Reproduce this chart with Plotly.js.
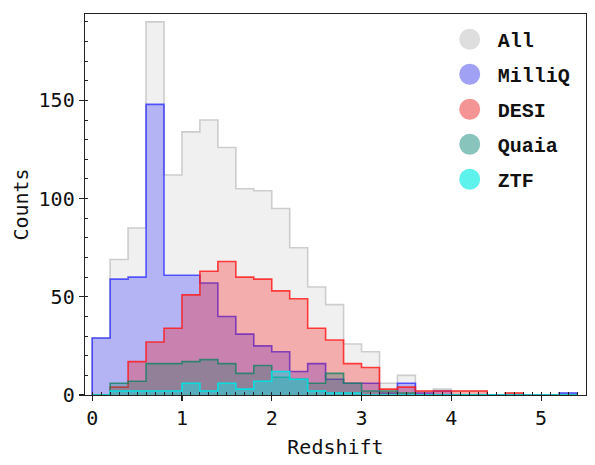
<!DOCTYPE html>
<html>
<head>
<meta charset="utf-8">
<script src="https://cdn.plot.ly/plotly-3.0.1.min.js"></script>
<style>html,body{margin:0;padding:0;background:#fff;}#chart{width:595px;height:465px;}</style>
</head>
<body>
<div id="chart"></div>
<script>
// Histogram bin edges: 0.0 to 5.4 in steps of 0.2 (27 bins)
var binStart = 0.0;
var binWidth = 0.2;
var seriesNames = ["All", "MilliQ", "DESI", "Quaia", "ZTF"];
var countsAll    = [29, 69, 85, 190, 112, 134, 140, 126, 105, 104, 95, 75, 55, 46, 26, 22, 6, 10, 2, 3, 2, 2, 0, 1, 0, 0, 1];
var countsMilliQ = [29, 59, 60, 148, 61, 61, 57, 40, 31, 25, 22, 12, 16, 8, 6, 6, 1, 6, 1, 2, 0, 0, 0, 0, 0, 0, 1];
var countsDESI   = [0, 4, 17, 27, 34, 51, 63, 68, 60, 59, 53, 49, 34, 28, 16, 14, 3, 4, 2, 2, 2, 2, 0, 1, 0, 0, 0];
var countsQuaia  = [0, 6, 7, 16, 16, 17, 18, 16, 11, 15, 9, 8, 6, 11, 6, 2, 2, 1, 0, 0, 0, 0, 0, 0, 0, 0, 0];
var countsZTF    = [0, 2, 2, 2, 2, 6, 2, 6, 3, 7, 12, 8, 2, 1, 1, 0, 0, 0, 0, 0, 0, 0, 0, 0, 0, 0, 0];
var xTickVals = [0, 1, 2, 3, 4, 5];
var yTickVals = [0, 50, 100, 150];

var allCounts = [countsAll, countsMilliQ, countsDESI, countsQuaia, countsZTF];
var fills = ["rgba(128,128,128,0.12)", "rgba(0,0,255,0.25)", "rgba(255,0,0,0.28)", "rgba(30,125,105,0.32)", "rgba(0,235,235,0.40)"];
var lines = ["rgb(205,205,205)", "rgba(40,40,255,0.75)", "rgba(255,20,20,0.8)", "rgba(20,130,100,0.8)", "rgba(0,225,225,0.95)"];
var legendColors = ["#dedede", "#a0a0f4", "#f49494", "#88c4bc", "#5ef2ec"];

function stepXY(counts) {
  var xs = [binStart], ys = [0];
  for (var i = 0; i < counts.length; i++) {
    xs.push(binStart + i * binWidth);
    ys.push(counts[i]);
  }
  xs.push(binStart + counts.length * binWidth);
  ys.push(0);
  return {x: xs, y: ys};
}

var traces = [];
for (var k = 0; k < seriesNames.length; k++) {
  var s = stepXY(allCounts[k]);
  traces.push({
    type: "scatter", mode: "lines", x: s.x, y: s.y,
    line: {shape: "hv", color: lines[k], width: 1.6},
    fill: "tozeroy", fillcolor: fills[k],
    name: seriesNames[k], showlegend: false, hoverinfo: "skip"
  });
}
for (var k = 0; k < seriesNames.length; k++) {
  traces.push({
    type: "scatter", mode: "markers", x: [null], y: [null],
    marker: {symbol: "circle", size: 16, color: legendColors[k], line: {color: legendColors[k], width: 5}},
    name: seriesNames[k], legendgroup: "g" + k, showlegend: true
  });
}

var mono = "DejaVu Sans Mono, monospace";
var layout = {
  width: 595, height: 465,
  margin: {l: 85, r: 9, t: 14, b: 70},
  paper_bgcolor: "#fff", plot_bgcolor: "#fff",
  showlegend: true,
  legend: {
    x: 0.712, y: 0.985, xanchor: "left", yanchor: "top",
    bgcolor: "rgba(255,255,255,0)", borderwidth: 0,
    font: {family: "Courier New, Liberation Mono, monospace", size: 20, color: "#111", weight: "bold"},
    itemsizing: "trace", tracegroupgap: 6, itemwidth: 46
  },
  xaxis: {
    range: [-0.08, 5.5], showgrid: false, zeroline: false,
    showline: true, linecolor: "#222", linewidth: 1.3, mirror: true,
    tickmode: "array", tickvals: xTickVals, ticktext: xTickVals.map(String),
    ticks: "outside", ticklen: 5, tickwidth: 1.2, tickcolor: "#222",
    minor: {dtick: 0.1, ticks: "inside", ticklen: 3, tickwidth: 1, tickcolor: "#222"},
    tickfont: {family: mono, size: 20, color: "#111"},
    title: {text: "Redshift", font: {family: mono, size: 20, color: "#111"}, standoff: 10}
  },
  yaxis: {
    range: [0, 194], showgrid: false, zeroline: false,
    showline: true, linecolor: "#222", linewidth: 1.3, mirror: true,
    tickmode: "array", tickvals: yTickVals, ticktext: yTickVals.map(String),
    ticks: "outside", ticklen: 5, tickwidth: 1.2, tickcolor: "#222",
    minor: {dtick: 10, ticks: "inside", ticklen: 3, tickwidth: 1, tickcolor: "#222"},
    tickfont: {family: mono, size: 20, color: "#111"},
    title: {text: "Counts", font: {family: mono, size: 20, color: "#111"}, standoff: 4}
  }
};

Plotly.newPlot("chart", traces, layout, {displayModeBar: false, staticPlot: true});
</script>
</body>
</html>
